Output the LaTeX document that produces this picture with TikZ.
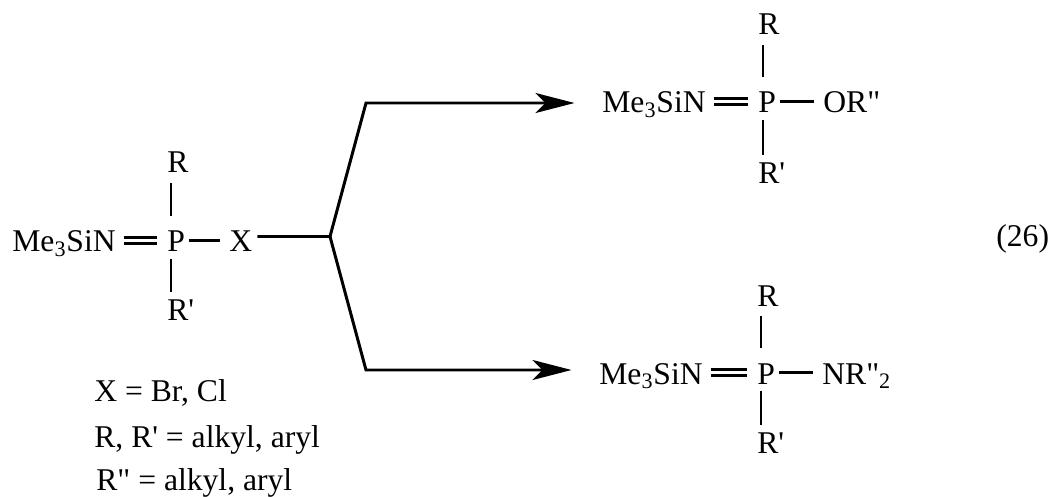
\documentclass[tikz,border=0pt]{standalone}
\usepackage{fontspec}
\setmainfont{Liberation Serif}
\newfontfamily\chemfont{Liberation Serif}
\usetikzlibrary{arrows.meta}
\tikzset{
  atom/.style={inner sep=0pt, anchor=base west, text height=0.46cm, text depth=0pt},
  bond/.style={line width=1.3pt},
  dbond/.style={bond, double, double distance=0.07cm, shorten <=0.15cm, shorten >=0.21cm},
  sbond/.style={bond, shorten <=0.07cm, shorten >=0.19cm},
  upbond/.style={bond, shorten <=0.19cm, shorten >=0.25cm},
  downbond/.style={bond, shorten <=0.13cm, shorten >=0.1cm},
  react/.style={line width=1.7pt, line join=miter, shorten >=0.55cm,
    -{Stealth[length=0.78cm, width=0.4cm, inset=0.2cm]}},
}
\begin{document}
\begin{tikzpicture}[x=1cm,y=1cm, font=\fontsize{18}{22}\chemfont]
    \useasboundingbox (0,0) rectangle (21,9.92);
    \node[atom] (sin) at (0.24,4.88) {Me\textsubscript{3}SiN};
    \node[atom] (p) at (3.34,4.88) {P};
    \node[atom] (x) at (4.58,4.88) {X};
    \node[atom] (r) at (3.34,6.46) {R};
    \node[atom] (rp) at (3.34,3.52) {R'};
    \draw[dbond] (sin.east) -- (p.west);
    \draw[sbond] (p.east) -- (x.west);
    \draw[upbond] ([xshift=0.08cm]r.south west) -- ([xshift=0.08cm]p.north west);
    \draw[downbond] ([xshift=0.08cm]p.south west) -- ([xshift=0.08cm]rp.north west);
    \node[atom] (osin) at (12.04,7.66) {Me\textsubscript{3}SiN};
    \node[atom] (op) at (15.16,7.66) {P};
    \node[atom] (oor) at (16.46,7.66) {OR"};
    \node[atom] (or) at (15.16,9.22) {R};
    \node[atom] (orp) at (15.16,6.26) {R'};
    \draw[dbond] (osin.east) -- (op.west);
    \draw[sbond] (op.east) -- (oor.west);
    \draw[upbond] ([xshift=0.1cm]or.south west) -- ([xshift=0.1cm]op.north west);
    \draw[downbond] ([xshift=0.1cm]op.south west) -- ([xshift=0.1cm]orp.north west);
    \node[atom] (nsin) at (11.98,2.24) {Me\textsubscript{3}SiN};
    \node[atom] (np) at (15.14,2.24) {P};
    \node[atom] (nnr) at (16.44,2.24) {NR"\textsubscript{2}};
    \node[atom] (nr) at (15.14,3.80) {R};
    \node[atom] (nrp) at (15.14,0.86) {R'};
    \draw[dbond] (nsin.east) -- (np.west);
    \draw[sbond] (np.east) -- (nnr.west);
    \draw[upbond] ([xshift=0.08cm]nr.south west) -- ([xshift=0.08cm]np.north west);
    \draw[downbond] ([xshift=0.08cm]np.south west) -- ([xshift=0.08cm]nrp.north west);
    \coordinate (br) at (6.60,5.19);
    \coordinate (up) at (7.32,7.86);
    \coordinate (dn) at (7.32,2.52);
    \draw[react, shorten <=0.1cm] (x.east |- br) -- (br) -- (up) -- (up -| osin.west);
    \draw[react, shorten <=0.1cm] (x.east |- br) -- (br) -- (dn) -- (dn -| nsin.west);
    \node[atom] (defx) at (1.88,1.90) {X = Br, Cl};
    \node[atom] (defr) at (1.88,0.98) {R, R' = alkyl, aryl};
    \node[atom] (defrr) at (1.92,0.12) {R" = alkyl, aryl};
    \node[atom] (eqno) at (19.92,5.00) {(26)};
  \end{tikzpicture}
\end{document}
